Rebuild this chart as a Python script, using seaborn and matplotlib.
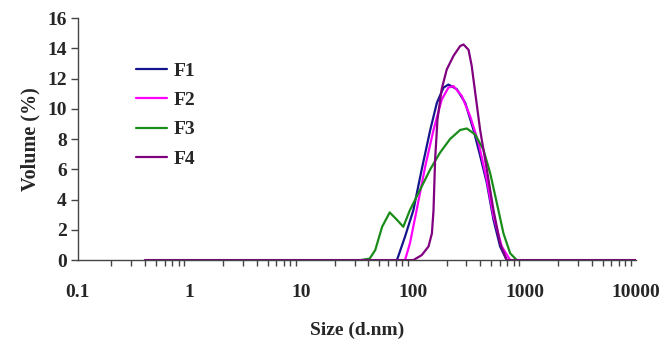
import numpy as np
import pandas as pd
import matplotlib
matplotlib.use('Agg')
import matplotlib.pyplot as plt
import seaborn as sns
from matplotlib.ticker import LogLocator, FixedLocator, NullFormatter

# size (d.nm) and volume (%)
f1_size = [0.4, 72, 85, 101, 120, 143, 164, 188, 208, 247, 294, 349, 400, 459, 527, 604, 692, 10000]
f1_vol = [0, 0, 1.55, 3.3, 6.0, 8.6, 10.4, 11.4, 11.6, 11.3, 10.4, 8.6, 6.9, 5.1, 2.66, 0.9, 0, 0]

f2_size = [0.4, 85, 94, 108, 129, 153, 181, 208, 231, 274, 326, 387, 459, 527, 625, 743, 10000]
f2_vol = [0, 0, 1.1, 3.3, 6.2, 8.6, 10.6, 11.4, 11.5, 10.85, 9.5, 7.75, 5.3, 2.9, 0.9, 0, 0]

f3_size = [0.4, 34, 41, 46, 53, 62, 72, 82, 94, 116, 143, 175, 215, 265, 304, 361,
           428, 492, 565, 647, 743, 851, 10000]
f3_vol = [0, 0, 0.1, 0.66, 2.2, 3.15, 2.66, 2.2, 3.3, 4.65, 6.0, 7.1, 8.0, 8.6, 8.7, 8.3,
          7.3, 5.75, 3.76, 1.77, 0.45, 0, 0]

f4_size = [0.4, 101, 120, 138, 148, 153, 158, 166, 181, 201, 231, 265, 284, 315, 336, 361,
           400, 459, 527, 604, 692, 10000]
f4_vol = [0, 0, 0.33, 0.9, 1.77, 3.3, 6.6, 9.3, 11.3, 12.6, 13.5, 14.15, 14.25, 13.9, 12.85, 11.1,
          8.6, 6.0, 3.3, 1.1, 0, 0]

labels = ['F1', 'F2', 'F3', 'F4']
colors = ['#14148c', '#ff00ff', '#1a8c1a', '#800080']

frames = []
for lab, s, v in zip(labels, [f1_size, f2_size, f3_size, f4_size], [f1_vol, f2_vol, f3_vol, f4_vol]):
    frames.append(pd.DataFrame({'size': s, 'vol': v, 'sample': lab}))
df = pd.concat(frames, ignore_index=True)

sns.set_style('white')
plt.rcParams['font.family'] = ['Liberation Serif', 'DejaVu Serif']
plt.rcParams['font.weight'] = 'bold'

fig = plt.figure(figsize=(6.6, 3.4), dpi=100)
ax = fig.add_axes([0.118, 0.235, 0.846, 0.712])

sns.lineplot(data=df, x='size', y='vol', hue='sample', palette=colors,
             estimator=None, sort=False, linewidth=1.6, ax=ax)

ax.set_xscale('log')
ax.set_xlim(0.1, 10000)
ax.set_ylim(0, 16)
ax.set_yticks(range(0, 17, 2))
ax.xaxis.set_major_locator(FixedLocator([0.1, 1, 10, 100, 1000, 10000]))
ax.set_xticklabels(['0.1', '1', '10', '100', '1000', '10000'])
ax.xaxis.set_minor_locator(LogLocator(base=10, subs=np.arange(2, 10), numticks=20))
ax.xaxis.set_minor_formatter(NullFormatter())

for side in ['top', 'right']:
    ax.spines[side].set_visible(False)
for side in ['left', 'bottom']:
    ax.spines[side].set_color('#444444')
    ax.spines[side].set_linewidth(1.0)

ax.tick_params(axis='x', which='major', direction='inout', length=10, width=1.0,
               color='#444444', labelsize=14, pad=12)
ax.tick_params(axis='x', which='minor', direction='out', length=4, width=1.0,
               color='#444444', bottom=True)
ax.tick_params(axis='y', which='major', direction='out', length=5, width=1.0,
               color='#444444', labelsize=14, left=True, pad=3)
for t in ax.get_xticklabels() + ax.get_yticklabels():
    t.set_fontweight('bold')

ax.set_xlabel('Size (d.nm)', fontsize=14, fontweight='bold', labelpad=15)
ax.set_ylabel('Volume (%)', fontsize=14.5, fontweight='bold', labelpad=5)

leg = ax.legend(loc='upper left', bbox_to_anchor=(0.073, 0.89), frameon=False,
                handlelength=1.6, handletextpad=0.35, labelspacing=0.6,
                prop={'weight': 'bold', 'size': 14})

fig.savefig('out.png', dpi=100)
